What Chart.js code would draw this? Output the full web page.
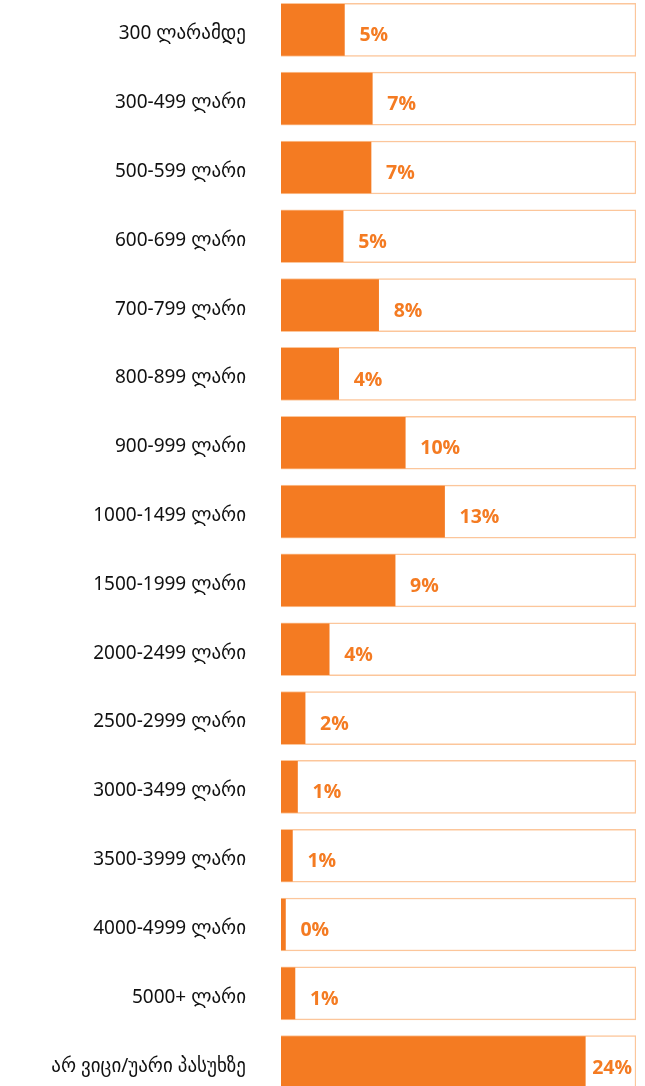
<!DOCTYPE html>
<html>
<head>
<meta charset="utf-8">
<script src="https://cdn.jsdelivr.net/npm/chart.js@4"></script>
<style>
  html, body { margin: 0; padding: 0; background: #fff; overflow: hidden; }
  #income-chart { position: absolute; left: 0; top: -43px; }
</style>
</head>
<body>
<canvas id="income-chart" width="645" height="1178"></canvas>
<script>
// categories, values (bar length) and the printed labels
const categories = [
    '300 ლარამდე', '300-499 ლარი', '500-599 ლარი', '600-699 ლარი',
    '700-799 ლარი', '800-899 ლარი', '900-999 ლარი', '1000-1499 ლარი',
    '1500-1999 ლარი', '2000-2499 ლარი', '2500-2999 ლარი', '3000-3499 ლარი',
    '3500-3999 ლარი', '4000-4999 ლარი', '5000+ ლარი', 'არ ვიცი/უარი პასუხზე'
];
const values = [5.0, 7.2, 7.1, 4.9, 7.7, 4.55, 9.8, 12.9, 9.0, 3.8, 1.9, 1.3, 0.9, 0.35, 1.1, 24.0];
const shownLabels = ['5%', '7%', '7%', '5%', '8%', '4%', '10%', '13%', '9%', '4%', '2%', '1%', '1%', '0%', '1%', '24%'];
const scaleMax = 28;
const boxValues = categories.map(() => scaleMax);

const orange = '#f47b22';
const boxBorder = '#fcc69b';

const ctx = document.getElementById('income-chart').getContext('2d');

// draws the % label just after each orange bar
const valueLabels = {
    id: 'valueLabels',
    afterDatasetsDraw(chart) {
        const { ctx, chartArea } = chart;
        const meta = chart.getDatasetMeta(0);
        ctx.save();
        ctx.font = 'bold 19.5px "Open Sans", "Noto Sans", sans-serif';
        ctx.fillStyle = orange;
        ctx.textAlign = 'left';
        ctx.textBaseline = 'middle';
        meta.data.forEach((bar, i) => {
            const txt = shownLabels[i];
            const w = ctx.measureText(txt).width;
            let x = bar.x + 15;
            if (x + w > chartArea.right - 4) x = chartArea.right - 4 - w;
            ctx.fillText(txt, x, bar.y + 6);
        });
        ctx.restore();
    }
};

new Chart(ctx, {
    type: 'bar',
    data: {
        labels: categories,
        datasets: [
            {
                label: 'share',
                data: values,
                backgroundColor: orange,
                borderWidth: 0,
                barThickness: 51,
                grouped: false,
                order: 1
            },
            {
                label: 'box',
                data: boxValues,
                backgroundColor: '#ffffff',
                borderColor: boxBorder,
                borderWidth: 1.5,
                barThickness: 53,
                grouped: false,
                order: 2
            }
        ]
    },
    options: {
        indexAxis: 'y',
        responsive: false,
        animation: false,
        layout: { padding: { left: 0, right: 9, top: 0, bottom: 0 } },
        plugins: {
            legend: { display: false },
            tooltip: { enabled: false }
        },
        scales: {
            x: {
                display: false,
                min: 0,
                max: scaleMax
            },
            y: {
                grid: { display: false },
                border: { display: false },
                ticks: {
                    color: '#111111',
                    padding: 27,
                    labelOffset: 4,
                    font: { family: '"Noto Sans", "DejaVu Sans", sans-serif', size: 19 }
                },
                afterFit(axis) { axis.width = 281; }
            }
        }
    },
    plugins: [valueLabels]
});
</script>
</body>
</html>
